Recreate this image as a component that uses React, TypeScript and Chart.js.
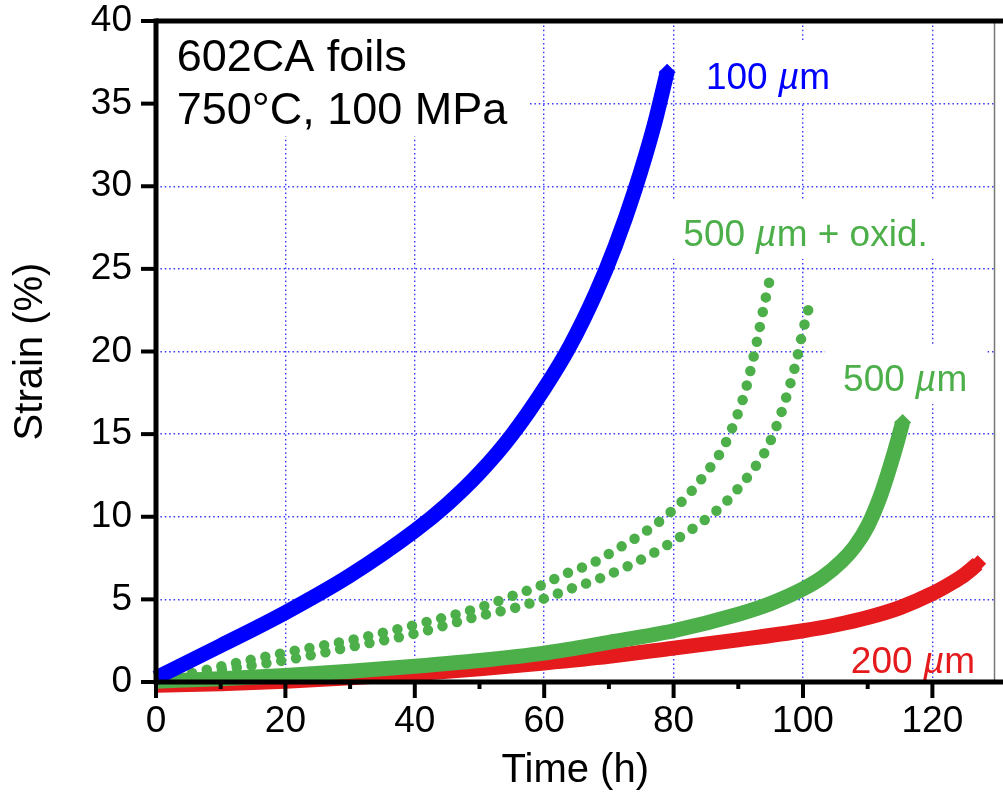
import React, { useEffect, useRef } from 'react';
import { Chart, registerables } from 'chart.js';

Chart.register(...registerables);

const FONT = '"Liberation Sans", Arial, Helvetica, sans-serif';

// ---- axis ticks ----
const xTickValues = [0, 20, 40, 60, 80, 100, 120];
const xMinorTickValues = [10, 30, 50, 70, 90, 110];
const yTickValues = [0, 5, 10, 15, 20, 25, 30, 35, 40];

// ---- 100 µm (blue) ----
const blueTime = [0, 10, 20, 30, 40, 45, 50, 55, 60, 64, 68, 71, 74, 77, 79];
const blueStrain = [0.25, 2.2, 4.2, 6.45, 9.15, 10.75, 12.65, 14.95, 17.75, 20.35, 23.55, 26.4, 29.75, 33.7, 36.9];

// ---- 200 µm (red) ----
const redTime = [0, 10, 20, 30, 40, 50, 60, 70, 80, 90, 100, 105, 110, 115, 120, 123, 125, 127];
const redStrain = [-0.2, -0.1, 0.05, 0.25, 0.5, 0.8, 1.15, 1.55, 2.05, 2.55, 3.1, 3.45, 3.9, 4.5, 5.35, 6.0, 6.5, 7.15];

// ---- 500 µm (green, solid) ----
const greenTime = [0, 10, 20, 30, 40, 50, 60, 70, 80, 90, 95, 100, 103, 106, 108, 110, 112, 114, 115.4];
const greenStrain = [0.05, 0.2, 0.4, 0.65, 0.95, 1.3, 1.75, 2.4, 3.1, 4.1, 4.75, 5.63, 6.33, 7.31, 8.19, 9.44, 11.29, 13.74, 15.7];

// ---- 500 µm + oxid. (green, dotted) – specimen A ----
const oxATime = [1, 5, 11, 20, 30, 40, 50, 55, 59.2, 63.3, 67.5, 71.5, 75.3, 79, 82.2, 85.1, 87.7, 89.5, 91, 92.6, 94, 95];
const oxAStrain = [0.26, 0.5, 1.03, 1.78, 2.53, 3.45, 4.5, 5.2, 5.8, 6.55, 7.2, 8.1, 9.0, 10.1, 11.3, 12.7, 14.2, 15.8, 17.5, 20.1, 22.8, 24.6];

// ---- 500 µm + oxid. (green, dotted) – specimen B ----
const oxBTime = [1, 5, 11, 20, 30, 40, 50, 55.3, 59.6, 63.8, 68.1, 72.3, 76.4, 80.3, 84.1, 87.6, 90.6, 92, 94.5, 96.3, 97.7, 98.9, 99.9, 101];
const oxBStrain = [0.25, 0.45, 0.79, 1.32, 2.12, 2.93, 4.0, 4.47, 5.0, 5.6, 6.2, 6.9, 7.7, 8.6, 9.6, 10.7, 12.0, 12.7, 14.2, 15.9, 17.6, 19.3, 21.1, 22.8];

// ---- text labels ----
const labelTitle = ['602CA foils', '750°C, 100 MPa'];
const label100 = '100 µm';
const label200 = '200 µm';
const label500 = '500 µm';
const label500ox = '500 µm + oxid.';

const BLUE = '#0000ff';
const RED = '#e41a1c';
const GREEN = '#4daf4a';

const toPts = (t: number[], s: number[]) => t.map((v, i) => ({ x: v, y: s[i] }));

type Annot = {
  lines: string[];
  t: number; // left of text (data units)
  s: number; // baseline of first line (data units)
  size: number;
  lineGap: number;
  color: string;
  box: boolean;
};

const annotations: Annot[] = [
  { lines: labelTitle, t: 3.2, s: 37.0, size: 45, lineGap: 53, color: '#000', box: true },
  { lines: [label100], t: 85.0, s: 35.9, size: 37, lineGap: 0, color: BLUE, box: true },
  { lines: [label500ox], t: 81.5, s: 26.4, size: 37, lineGap: 0, color: GREEN, box: true },
  { lines: [label500], t: 106.2, s: 17.6, size: 37, lineGap: 0, color: GREEN, box: true },
  { lines: [label200], t: 107.4, s: 0.55, size: 37, lineGap: 0, color: RED, box: false },
];

function segs(text: string) {
  const out: { text: string; italic: boolean }[] = [];
  const parts = text.split('µ');
  parts.forEach((p, i) => {
    if (i > 0) out.push({ text: 'µ', italic: true });
    if (p) out.push({ text: p, italic: false });
  });
  return out;
}

function measureRich(ctx: CanvasRenderingContext2D, text: string, size: number) {
  let w = 0;
  for (const sg of segs(text)) {
    ctx.font = `${sg.italic ? 'italic ' : ''}${size}px ${FONT}`;
    w += ctx.measureText(sg.text).width;
  }
  return w;
}

function drawRich(ctx: CanvasRenderingContext2D, text: string, x: number, y: number, size: number, color: string) {
  let cx = x;
  ctx.fillStyle = color;
  ctx.textAlign = 'left';
  ctx.textBaseline = 'alphabetic';
  for (const sg of segs(text)) {
    ctx.font = `${sg.italic ? 'italic ' : ''}${size}px ${FONT}`;
    ctx.fillText(sg.text, cx, y);
    cx += ctx.measureText(sg.text).width;
  }
}

const annotationPlugin = {
  id: 'annotBoxes',
  beforeDatasetsDraw(chart: any) {
    const { ctx, chartArea, scales } = chart;
    ctx.save();
    for (const a of annotations) {
      if (!a.box) continue;
      const x0 = scales.x.getPixelForValue(a.t);
      const y0 = scales.y.getPixelForValue(a.s);
      let w = 0;
      for (const l of a.lines) w = Math.max(w, measureRich(ctx, l, a.size));
      const yLast = y0 + a.lineGap * (a.lines.length - 1);
      const left = Math.max(chartArea.left + 3, x0 - 18);
      const right = Math.min(chartArea.right - 1, x0 + w + 20);
      const top = Math.max(chartArea.top + 3, y0 - 0.72 * a.size - 20);
      const bottom = Math.min(chartArea.bottom - 3, yLast + 13);
      ctx.fillStyle = '#ffffff';
      ctx.fillRect(left, top, right - left, bottom - top);
    }
    ctx.restore();
  },
  afterDatasetsDraw(chart: any) {
    const { ctx, scales } = chart;
    ctx.save();
    for (const a of annotations) {
      const x0 = scales.x.getPixelForValue(a.t);
      const y0 = scales.y.getPixelForValue(a.s);
      a.lines.forEach((l, i) => drawRich(ctx, l, x0, y0 + a.lineGap * i, a.size, a.color));
    }
    ctx.restore();
  },
};

const axesPlugin = {
  id: 'frameAxes',
  afterDraw(chart: any) {
    const { ctx, chartArea, scales } = chart;
    const { left, right, top, bottom } = chartArea;
    const W = chart.width;
    ctx.save();
    ctx.lineCap = 'butt';
    // right border (thin, at edge)
    ctx.strokeStyle = '#777';
    ctx.lineWidth = 1.5;
    ctx.beginPath();
    ctx.moveTo(right, top);
    ctx.lineTo(right, bottom);
    ctx.stroke();
    ctx.strokeStyle = '#000';
    // top border
    ctx.lineWidth = 5;
    ctx.beginPath();
    ctx.moveTo(left, top);
    ctx.lineTo(W, top);
    ctx.stroke();
    // bottom axis
    ctx.beginPath();
    ctx.moveTo(left, bottom);
    ctx.lineTo(W, bottom);
    ctx.stroke();
    // left axis
    ctx.beginPath();
    ctx.moveTo(left, top - 2.5);
    ctx.lineTo(left, bottom + 2.5);
    ctx.stroke();
    // y ticks
    ctx.lineWidth = 4;
    for (const v of yTickValues) {
      const py = scales.y.getPixelForValue(v);
      ctx.beginPath();
      ctx.moveTo(left - 15, py);
      ctx.lineTo(left, py);
      ctx.stroke();
    }
    // x major ticks
    for (const v of xTickValues) {
      const px = scales.x.getPixelForValue(v);
      ctx.beginPath();
      ctx.moveTo(px, bottom);
      ctx.lineTo(px, bottom + 16);
      ctx.stroke();
    }
    // x minor ticks
    for (const v of xMinorTickValues) {
      const px = scales.x.getPixelForValue(v);
      ctx.beginPath();
      ctx.moveTo(px, bottom);
      ctx.lineTo(px, bottom + 7);
      ctx.stroke();
    }
    ctx.restore();
  },
};

export default function App() {
  const ref = useRef<HTMLCanvasElement | null>(null);

  useEffect(() => {
    if (!ref.current) return;
    const lastDiamond = (n: number, r: number) => (c: any) => (c.dataIndex === n - 1 ? r : 0);

    const solid = (label: string, t: number[], s: number[], color: string) => ({
      label,
      data: toPts(t, s),
      borderColor: color,
      backgroundColor: color,
      borderWidth: 15,
      pointRadius: lastDiamond(t.length, 8.5),
      pointStyle: 'rectRot',
      pointBorderWidth: 0,
      cubicInterpolationMode: 'monotone',
      fill: false,
      clip: false,
    });
    const dotted = (label: string, t: number[], s: number[], color: string) => ({
      label,
      data: toPts(t, s),
      borderColor: color,
      backgroundColor: color,
      borderWidth: 10.5,
      borderDash: [0, 15],
      borderCapStyle: 'round',
      pointRadius: 0,
      cubicInterpolationMode: 'monotone',
      fill: false,
      clip: false,
    });

    const chart = new Chart(ref.current, {
      type: 'line',
      data: {
        datasets: [
          solid('100 µm', blueTime, blueStrain, BLUE),
          dotted('500 µm + oxid. A', oxATime, oxAStrain, GREEN),
          dotted('500 µm + oxid. B', oxBTime, oxBStrain, GREEN),
          solid('500 µm', greenTime, greenStrain, GREEN),
          solid('200 µm', redTime, redStrain, RED),
        ],
      },
      options: {
        responsive: false,
        animation: false,
        devicePixelRatio: 1,
        layout: { padding: { left: 11, top: 21, right: 1, bottom: 0 } },
        plugins: {
          legend: { display: false },
          tooltip: { enabled: false },
        },
        scales: {
          x: {
            type: 'linear',
            min: 0,
            max: 129.6,
            afterBuildTicks: (scale: any) => {
              scale.ticks = xTickValues.map((v) => ({ value: v }));
            },
            afterFit: (scale: any) => {
              scale.height = 111;
              scale.paddingLeft = 0;
              scale.paddingRight = 0;
            },
            grid: {
              display: true,
              drawTicks: false,
              color: 'rgba(20,20,255,0.85)',
              lineWidth: 1.4,
            },
            border: { display: false, dash: [1.5, 2.9] },
            ticks: {
              color: '#000',
              font: { family: FONT, size: 37, lineHeight: 1 },
              padding: 21,
              maxRotation: 0,
              autoSkip: false,
            },
            title: {
              display: true,
              text: 'Time (h)',
              color: '#000',
              font: { family: FONT, size: 40, lineHeight: 1 },
              padding: { top: 0, bottom: 2 },
            },
          },
          y: {
            type: 'linear',
            min: 0,
            max: 40,
            afterBuildTicks: (scale: any) => {
              scale.ticks = yTickValues.map((v) => ({ value: v }));
            },
            afterFit: (scale: any) => {
              scale.width = 145;
              scale.paddingTop = 0;
              scale.paddingBottom = 0;
            },
            grid: {
              display: true,
              drawTicks: false,
              color: 'rgba(20,20,255,0.85)',
              lineWidth: 1.4,
            },
            border: { display: false, dash: [1.5, 2.9] },
            ticks: {
              color: '#000',
              font: { family: FONT, size: 37, lineHeight: 1 },
              padding: 24,
              autoSkip: false,
            },
            title: {
              display: true,
              text: 'Strain (%)',
              color: '#000',
              font: { family: FONT, size: 40, lineHeight: 1 },
              padding: { top: 0, bottom: 0 },
            },
          },
        },
      },
      plugins: [annotationPlugin, axesPlugin],
    } as any);

    return () => chart.destroy();
  }, []);

  return (
    <div style={{ position: 'absolute', left: 0, top: 0, width: 1003, height: 793, overflow: 'hidden', background: '#fff' }}>
      <canvas ref={ref} width={1003} height={793} style={{ display: 'block', width: 1003, height: 793 }} />
    </div>
  );
}
